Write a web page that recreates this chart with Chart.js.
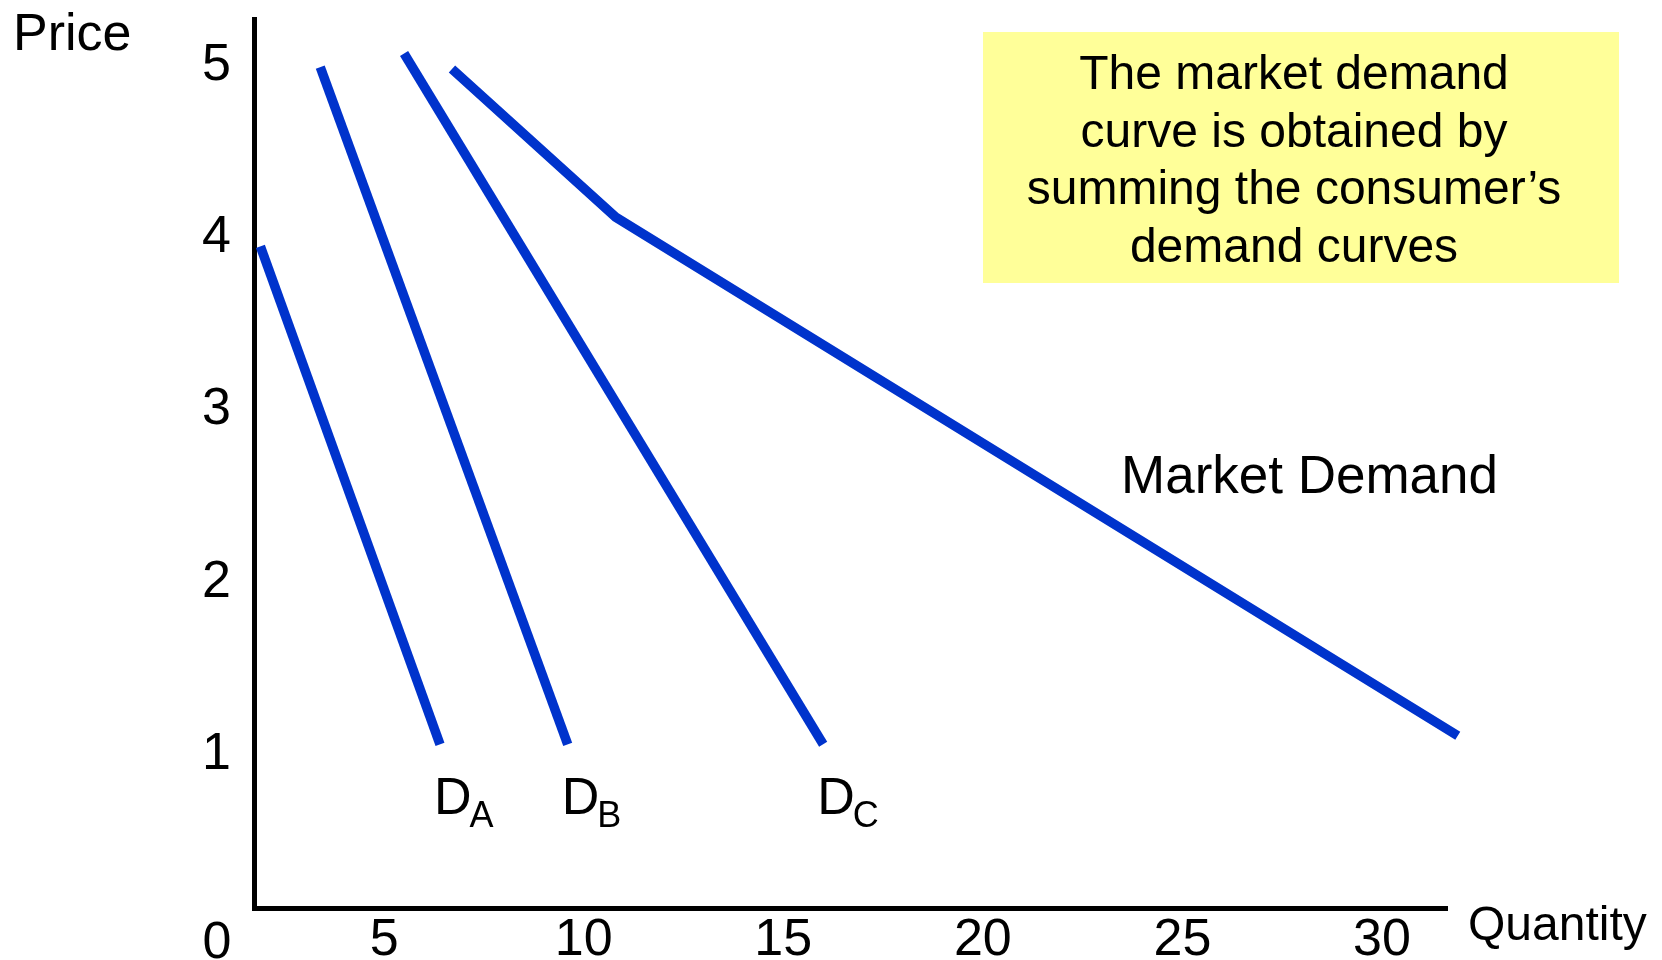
<!DOCTYPE html>
<html>
<head>
<meta charset="utf-8">
<title>Market Demand</title>
<script src="https://cdn.jsdelivr.net/npm/chart.js@4.4.1/dist/chart.umd.min.js"></script>
<style>
  html, body { margin: 0; padding: 0; background: #fff; }
  #wrap { width: 1662px; height: 960px; }
</style>
</head>
<body>
<div id="wrap"><canvas id="demandChart" width="1662" height="960"></canvas></div>
<script>
const FONT = "'Liberation Sans', Arial, Helvetica, sans-serif";
const BLUE = "#0033cc";

// Individual demand curves (quantity, price)
const qtyA = [1.9, 6.4];
const priceA = [3.95, 1.06];
const qtyB = [3.4, 9.6];
const priceB = [4.99, 1.06];
const qtyC = [5.5, 16.0];
const priceC = [5.07, 1.06];

// Horizontal sum of the three curves
const qtyMarket = [6.7, 10.8, 31.9];
const priceMarket = [4.98, 4.12, 1.11];

const priceTicks = [1, 2, 3, 4, 5];
const quantityTicks = [5, 10, 15, 20, 25, 30];
const curveNames = ["A", "B", "C"];
const noteLines = ["The market demand", "curve is obtained by", "summing the consumer\u2019s", "demand curves"];

function toPoints(qs, ps) {
  return qs.map((q, i) => ({ x: q, y: ps[i] }));
}

function curve(data) {
  return {
    data,
    showLine: true,
    borderColor: BLUE,
    borderWidth: 9.5,
    borderCapStyle: "butt",
    borderJoinStyle: "miter",
    pointRadius: 0,
    pointHoverRadius: 0,
    fill: false,
    tension: 0,
    clip: false,
  };
}

const curves = [
  { qty: qtyA, price: priceA },
  { qty: qtyB, price: priceB },
  { qty: qtyC, price: priceC },
];

// Text, note box and curve names drawn on top of the chart
const annotations = {
  id: "annotations",
  afterDraw(chart) {
    const { ctx, scales: { x, y } } = chart;
    ctx.save();
    ctx.fillStyle = "#000";
    ctx.textBaseline = "alphabetic";

    // axis titles and origin
    ctx.textAlign = "left";
    ctx.font = `52px ${FONT}`;
    ctx.fillText("Price", 13, 50);
    ctx.font = `48px ${FONT}`;
    ctx.fillText("Quantity", 1468, 940);
    ctx.textAlign = "center";
    ctx.font = `52px ${FONT}`;
    ctx.fillText("0", 217, 958);

    // curve names at the lower end of each individual curve
    ctx.textAlign = "left";
    curves.forEach((c, i) => {
      const last = c.qty.length - 1;
      const px = x.getPixelForValue(c.qty[last]) - 6;
      const py = y.getPixelForValue(c.price[last]) + 70;
      ctx.font = `52px ${FONT}`;
      ctx.fillText("D", px, py);
      const w = ctx.measureText("D").width;
      ctx.font = `36px ${FONT}`;
      ctx.fillText(curveNames[i], px + w - 2, py + 13);
    });

    ctx.font = `53px ${FONT}`;
    ctx.fillText("Market Demand", 1121, 493);

    // note box
    ctx.fillStyle = "#ffff99";
    ctx.fillRect(983, 32, 636, 251);
    ctx.fillStyle = "#000";
    ctx.textAlign = "center";
    ctx.font = `48px ${FONT}`;
    noteLines.forEach((t, i) => {
      ctx.fillText(t, 1294, 89 + i * 57.5);
    });
    ctx.restore();
  },
};

const ctx = document.getElementById("demandChart").getContext("2d");
new Chart(ctx, {
  type: "scatter",
  data: {
    datasets: [
      curve(toPoints(qtyA, priceA)),
      curve(toPoints(qtyB, priceB)),
      curve(toPoints(qtyC, priceC)),
      curve(toPoints(qtyMarket, priceMarket)),
    ],
  },
  options: {
    responsive: false,
    animation: false,
    layout: { padding: { top: 19, right: 215, bottom: 0, left: 0 } },
    plugins: {
      legend: { display: false },
      tooltip: { enabled: false },
    },
    scales: {
      x: {
        type: "linear",
        min: 1.74,
        max: 31.63,
        afterBuildTicks: (scale) => {
          scale.ticks = quantityTicks.map((v) => ({ value: v }));
        },
        afterFit: (scale) => {
          scale.height = 52;
          scale.paddingLeft = 0;
          scale.paddingRight = 0;
        },
        grid: { drawOnChartArea: false, drawTicks: false },
        border: { display: true, color: "#000", width: 5 },
        ticks: {
          padding: 1,
          color: "#000",
          maxRotation: 0,
          autoSkip: false,
          font: { family: FONT, size: 52 },
          callback: (v) => String(v),
        },
      },
      y: {
        type: "linear",
        min: 0.11,
        max: 5.27,
        afterBuildTicks: (scale) => {
          scale.ticks = priceTicks.map((v) => ({ value: v }));
        },
        afterFit: (scale) => {
          scale.width = 254;
          scale.paddingTop = 0;
          scale.paddingBottom = 0;
        },
        grid: { drawOnChartArea: false, drawTicks: false },
        border: { display: true, color: "#000", width: 5 },
        ticks: {
          padding: 23,
          color: "#000",
          autoSkip: false,
          font: { family: FONT, size: 52 },
          callback: (v) => String(v),
        },
      },
    },
  },
  plugins: [annotations],
});
</script>
</body>
</html>
